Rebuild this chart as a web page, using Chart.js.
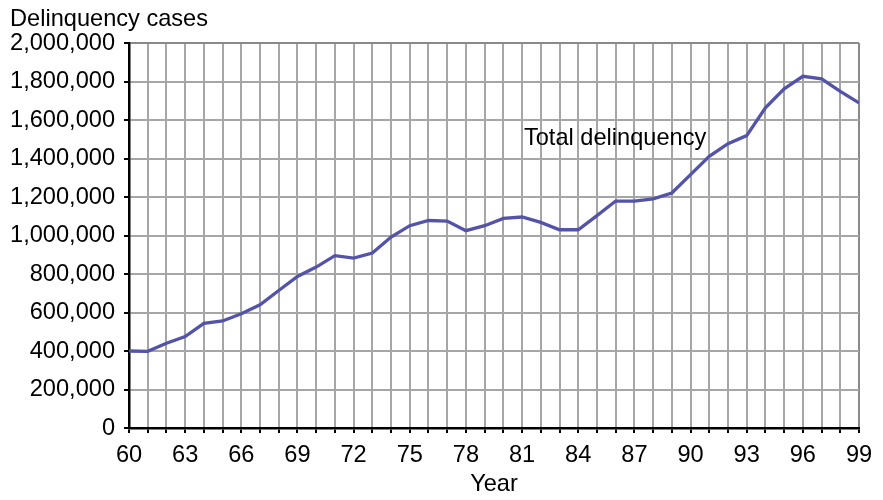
<!DOCTYPE html>
<html>
<head>
<meta charset="utf-8">
<script src="https://cdn.jsdelivr.net/npm/chart.js@4"></script>
<style>
  html, body { margin: 0; padding: 0; background: #fff; }
  #wrap { width: 883px; height: 500px; }
</style>
</head>
<body>
<div id="wrap"><canvas id="chart" width="883" height="500"></canvas></div>
<script>
// Delinquency cases by year, 1960-1999
const years = [60, 61, 62, 63, 64, 65, 66, 67, 68, 69,
  70, 71, 72, 73, 74, 75, 76, 77, 78, 79,
  80, 81, 82, 83, 84, 85, 86, 87, 88, 89,
  90, 91, 92, 93, 94, 95, 96, 97, 98, 99];
const cases = [400000, 398000, 440000, 475000, 544000, 556000, 593000, 640000, 714000, 787000,
  836000, 895000, 883000, 909000, 992000, 1051000, 1078000, 1075000, 1025000, 1051000,
  1089000, 1096000, 1068000, 1030000, 1030000, 1103000, 1179000, 1179000, 1190000, 1221000,
  1316000, 1411000, 1477000, 1519000, 1663000, 1762000, 1827000, 1814000, 1749000, 1689000];
const yTicks = [0, 200000, 400000, 600000, 800000, 1000000, 1200000, 1400000, 1600000, 1800000, 2000000];
const seriesLabel = "Total delinquency";

const FONT = '"Liberation Sans", Arial, Helvetica, sans-serif';
const SIZE = 23.6;

// axis title top-left and the series label inside the plot
const textPlugin = {
  id: "texts",
  afterDatasetsDraw(chart) {
    const ctx = chart.ctx;
    const { x, y } = chart.scales;
    ctx.save();
    ctx.fillStyle = "#000";
    ctx.font = SIZE + "px " + FONT;
    ctx.textBaseline = "alphabetic";
    ctx.textAlign = "left";
    ctx.fillText("Delinquency cases", 10, 26);
    ctx.fillText(seriesLabel, x.getPixelForValue(81.1), y.getPixelForValue(1468000));
    ctx.restore();
  }
};

new Chart(document.getElementById("chart"), {
  type: "line",
  data: {
    datasets: [{
      label: seriesLabel,
      data: years.map((yr, i) => ({ x: yr, y: cases[i] })),
      borderColor: "#5353a9",
      borderWidth: 3.3,
      pointRadius: 0,
      tension: 0,
      fill: false
    }]
  },
  options: {
    responsive: false,
    animation: false,
    layout: { padding: { top: 43, right: 24, left: 0, bottom: 0 } },
    plugins: {
      legend: { display: false },
      tooltip: { enabled: false }
    },
    scales: {
      x: {
        type: "linear",
        min: years[0],
        max: years[years.length - 1],
        afterFit: s => { s.height = 72; },
        grid: {
          color: ctx => ctx.tick && ctx.tick.value === years[years.length - 1] ? "#8a8a8a" : "#a6a6a6",
          lineWidth: 2,
          tickColor: "#000",
          tickLength: 5
        },
        border: { color: "#000", width: 2.5 },
        ticks: {
          stepSize: 1,
          autoSkip: false,
          maxRotation: 0,
          padding: 8,
          color: "#000",
          font: { family: FONT, size: SIZE },
          callback: v => (v % 3 === 0 ? String(v) : "")
        },
        title: {
          display: true,
          text: "Year",
          color: "#000",
          font: { family: FONT, size: SIZE },
          padding: { top: 0, bottom: 1 }
        }
      },
      y: {
        min: yTicks[0],
        max: yTicks[yTicks.length - 1],
        afterFit: s => { s.width = 129; },
        afterBuildTicks: s => { s.ticks = yTicks.map(v => ({ value: v })); },
        grid: {
          color: ctx => ctx.tick && ctx.tick.value === yTicks[yTicks.length - 1] ? "#8a8a8a" : "#a6a6a6",
          lineWidth: 2,
          tickColor: "#000",
          tickLength: 5
        },
        border: { color: "#000", width: 2.5 },
        ticks: {
          padding: 9,
          color: "#000",
          font: { family: FONT, size: SIZE },
          callback: v => Number(v).toLocaleString("en-US")
        }
      }
    }
  },
  plugins: [textPlugin]
});
</script>
</body>
</html>
